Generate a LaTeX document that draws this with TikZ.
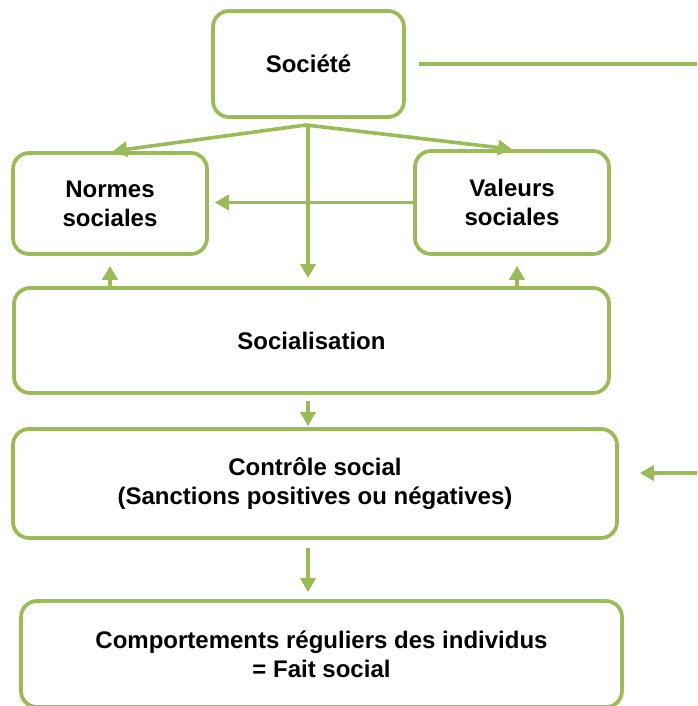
\documentclass[tikz,border=0pt]{standalone}
\usepackage{fontspec}
\setmainfont{Liberation Sans}
\usetikzlibrary{arrows.meta,calc}
\definecolor{lgreen}{HTML}{9BBB59}
\begin{document}
\begin{tikzpicture}[x=1pt,y=-1pt,
  box/.style={draw=lgreen, line width=3.7pt, rounded corners=16pt, align=center,
    inner sep=0pt, font=\fontsize{24}{29}\selectfont\bfseries, text=black},
  conn/.style={draw=lgreen, line width=3.6pt},
  arr/.style={conn, -{Triangle[length=14pt,width=15pt]}}]
\useasboundingbox (0,0) rectangle (697,706);
\clip (0,0) rectangle (697,706);
\node[box, minimum width=191pt, minimum height=106pt] (soc) at (308.5,64) {Société};
\node[box, minimum width=194pt, minimum height=101pt] (normes) at (110,203.5) {Normes\\sociales};
\node[box, minimum width=194pt, minimum height=103pt] (valeurs) at (512,202.5) {Valeurs\\sociales};
\node[box, minimum width=595pt, minimum height=105pt] (socia) at (311.5,340.5) {Socialisation};
\node[box, minimum width=604pt, minimum height=109pt] (ctrl) at (315,483.5) {Contrôle social\\(Sanctions positives ou négatives)};
\node[box, minimum width=601pt, minimum height=106pt] (comp) at (321.5,654) {Comportements réguliers des individus\\= Fait social};
% coordinates
\coordinate (F) at (306,125);
\coordinate (V) at (308,125);
\coordinate (Vend) at (308,278);
\coordinate (Rtop) at (700,64);
\coordinate (Rin) at (700,473);
\coordinate (vx) at (517,0);
% fan arrows
\draw[arr] (F) -- ([xshift=3pt]normes.north);
\draw[arr] (F) -- (valeurs.north);
\draw[arr] (V) -- (Vend);
% horizontal valeurs -> normes
\draw[arr, shorten >=6pt] (valeurs.west) -- (normes.east |- valeurs.west);
% up arrows
\draw[arr, shorten >=10pt] (normes.south |- socia.north) -- (normes.south);
\draw[arr, shorten >=10pt] (vx |- socia.north) -- (vx |- valeurs.south);
% down arrows
\draw[arr, shorten <=6pt, shorten >=1pt] (V |- socia.south) -- (V |- ctrl.north);
\draw[arr, shorten <=8pt, shorten >=7pt] (V |- ctrl.south) -- (V |- comp.north);
% right lines
\draw[conn, shorten <=13pt] (soc.east) -- (Rtop);
\draw[arr, shorten >=21pt] (Rin) -- (ctrl.east |- Rin);
\end{tikzpicture}
\end{document}
